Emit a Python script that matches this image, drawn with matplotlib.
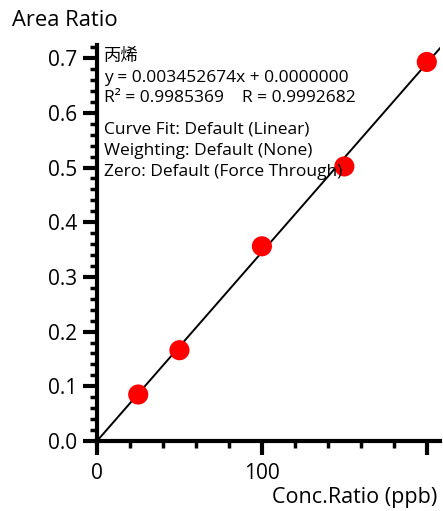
import numpy as np
import matplotlib
matplotlib.use("Agg")
import matplotlib.pyplot as plt
from matplotlib.ticker import MultipleLocator, FixedLocator

plt.rcParams['font.family'] = ['Open Sans', 'Noto Sans CJK SC', 'DejaVu Sans']

# calibration standards
conc = [25, 50, 100, 150, 200]
area_ratio = [0.085, 0.166, 0.356, 0.502, 0.693]

slope = 0.003452674
intercept = 0.0
compound = "丙烯"
x_ticks = [0, 100, 200]
x_tick_labels = ["0", "100", ""]
y_ticks = [0.0, 0.1, 0.2, 0.3, 0.4, 0.5, 0.6, 0.7]

W, H = 443, 511
fig = plt.figure(figsize=(W / 100, H / 100), dpi=100)
ax = fig.add_axes([97 / W, (H - 441) / H, (440 - 97) / W, (441 - 45) / H])

xmax, ymax = 208, 0.724
ax.set_xlim(0, xmax)
ax.set_ylim(0, ymax)

xl = np.array([0, xmax])
ax.plot(xl, slope * xl + intercept, color="black", lw=1.4, zorder=2)
ax.scatter(conc, area_ratio, s=210, color="#ff0000", edgecolors="none", zorder=3, clip_on=False)

for s in ["top", "right"]:
    ax.spines[s].set_visible(False)
for s in ["left", "bottom"]:
    ax.spines[s].set_linewidth(3)

ax.xaxis.set_major_locator(FixedLocator(x_ticks))
ax.set_xticklabels(x_tick_labels)
ax.xaxis.set_minor_locator(MultipleLocator(20))
ax.yaxis.set_major_locator(FixedLocator(y_ticks))
ax.set_yticklabels([f"{v:.1f}" for v in y_ticks])
ax.yaxis.set_minor_locator(MultipleLocator(0.02))
ax.tick_params(which="major", length=10, width=3, labelsize=15, pad=4)
ax.tick_params(which="minor", length=5, width=2.5)
ax.tick_params(axis="x", which="major", pad=6)

fig.text(12 / W, 1 - 20 / H, "Area Ratio", fontsize=15.8, va="center", ha="left")
fig.text(437 / W, 1 - 498 / H, "Conc.Ratio (ppb)", fontsize=15.5, va="center", ha="right")

lines = [
    (57, compound),
    (78, f"y = {slope:.9f}x + {intercept:.7f}"),
    (98, "R² = 0.9985369    R = 0.9992682"),
    (130, "Curve Fit: Default (Linear)"),
    (151, "Weighting: Default (None)"),
    (172, "Zero: Default (Force Through)"),
]
for ypx, txt in lines:
    fig.text(104 / W, 1 - ypx / H, txt, fontsize=12.5, va="center", ha="left", zorder=1)

fig.savefig("out.png", dpi=100)
